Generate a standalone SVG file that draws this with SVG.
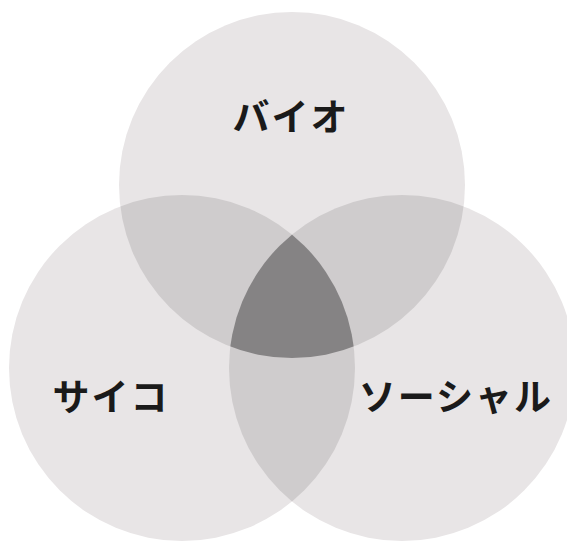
<svg xmlns="http://www.w3.org/2000/svg" width="567" height="542" viewBox="0 0 567 542">
  <style>
    .c { fill: #e8e5e6; }
    .p { fill: #cfcccd; }
    .t { fill: #858384; }
    .lbl { font-family: "Noto Sans CJK JP", "Noto Sans", sans-serif; font-size: 37px; font-weight: bold; fill: #1a1a1a; text-anchor: middle; letter-spacing: 2px; }
  </style>
  <defs>
    <clipPath id="cBio"><circle cx="292" cy="185" r="173"/></clipPath>
    <clipPath id="cPsy"><circle cx="182" cy="368" r="173"/></clipPath>
    <clipPath id="cSoc"><circle cx="402" cy="368" r="173"/></clipPath>
  </defs>
  <rect width="567" height="542" fill="#ffffff"/>
  <g id="bio"><circle class="c" cx="292" cy="185" r="173"/></g>
  <g id="psycho"><circle class="c" cx="182" cy="368" r="173"/></g>
  <g id="social"><circle class="c" cx="402" cy="368" r="173"/></g>
  <g id="overlaps">
    <g clip-path="url(#cBio)"><circle class="p" cx="182" cy="368" r="173"/></g>
    <g clip-path="url(#cBio)"><circle class="p" cx="402" cy="368" r="173"/></g>
    <g clip-path="url(#cPsy)"><circle class="p" cx="402" cy="368" r="173"/></g>
    <g clip-path="url(#cBio)"><g clip-path="url(#cPsy)"><circle class="t" cx="402" cy="368" r="173"/></g></g>
  </g>
  <g id="labels">
    <text class="lbl" x="291" y="131">バイオ</text>
    <text class="lbl" x="111" y="411">サイコ</text>
    <text class="lbl" x="456" y="411">ソーシャル</text>
  </g>
</svg>
